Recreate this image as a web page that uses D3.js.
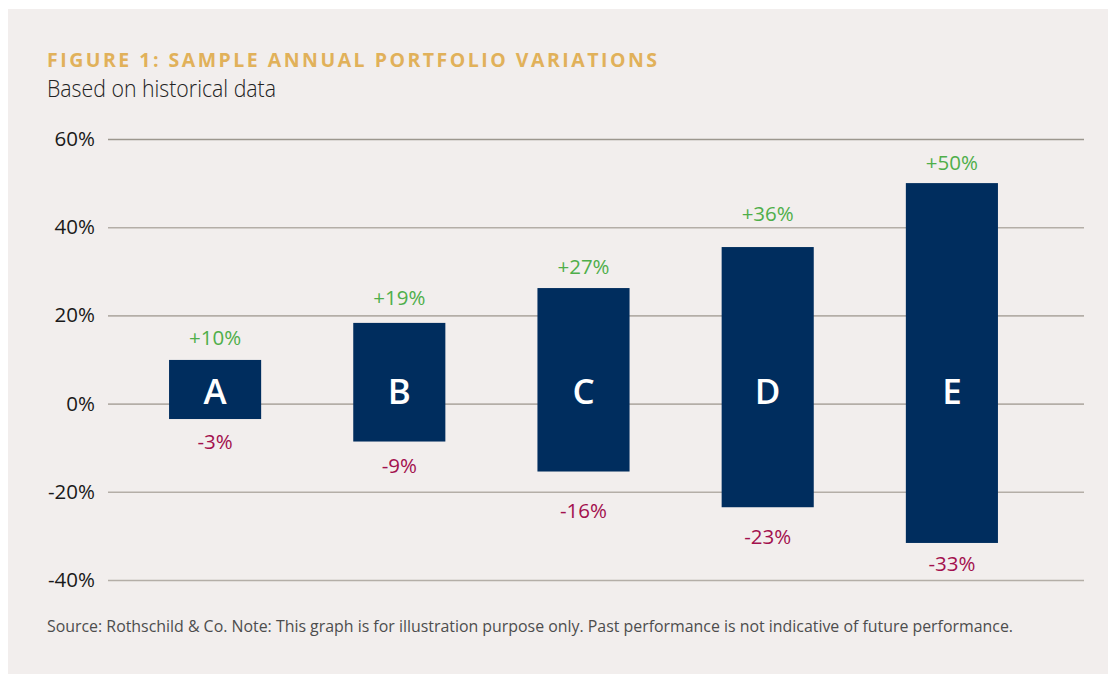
<!DOCTYPE html>
<html>
<head>
<meta charset="utf-8">
<script src="https://cdn.jsdelivr.net/npm/d3@7"></script>
<style>
  html, body { margin: 0; padding: 0; background: #ffffff; }
  svg { display: block; }
  text { font-family: "Open Sans", "Noto Sans", sans-serif; }
</style>
</head>
<body>
<svg id="chart" width="1108" height="674"></svg>
<script>
// ---- data ----
const categories = ["A", "B", "C", "D", "E"];
const highValues = [9.9, 18.3, 26.2, 35.5, 50.0];
const lowValues = [-3.5, -8.6, -15.4, -23.5, -31.6];
const highLabels = ["+10%", "+19%", "+27%", "+36%", "+50%"];
const lowLabels = ["-3%", "-9%", "-16%", "-23%", "-33%"];
// where each label sits, in value units
const highLabelAt = [15.1, 24.1, 31.3, 43.3, 54.8];
const lowLabelAt = [-8.5, -13.9, -24.1, -30.0, -36.2];
const yTicks = [-40, -20, 0, 20, 40, 60];

const title = "FIGURE 1: SAMPLE ANNUAL PORTFOLIO VARIATIONS";
const subtitle = "Based on historical data";
const footnote = "Source: Rothschild & Co. Note: This graph is for illustration purpose only. Past performance is not indicative of future performance.";

// ---- drawing ----
const svg = d3.select("#chart");

svg.append("rect")
  .attr("x", 8).attr("y", 9)
  .attr("width", 1100).attr("height", 665)
  .attr("fill", "#f2eeed");

const gridLeft = 108, gridRight = 1084;

const y = d3.scaleLinear().domain([-40, 60]).range([580, 139]);
const x = d3.scaleBand().domain(categories)
  .range([123, 1044]).paddingInner(0.5).paddingOuter(0.25);

// Axis + gridlines
const yAxis = d3.axisLeft(y)
  .tickValues(yTicks)
  .tickSize(-(gridRight - gridLeft))
  .tickPadding(13)
  .tickFormat(d => d + "%");

const gAxis = svg.append("g")
  .attr("transform", `translate(${gridLeft},0)`)
  .call(yAxis);
gAxis.select(".domain").remove();
gAxis.selectAll(".tick line")
  .attr("stroke", d => d === 60 ? "#9c978e" : "#b4aea7")
  .attr("stroke-width", 1.6);
gAxis.selectAll(".tick text")
  .attr("fill", "#1a1a1a")
  .style("font-size", "20.5px")
  .style("font-family", "'Open Sans', sans-serif");

const rows = categories.map((c, i) => ({
  cat: c, hi: highValues[i], lo: lowValues[i], hl: highLabels[i], ll: lowLabels[i],
  hAt: highLabelAt[i], lAt: lowLabelAt[i]
}));

// Bars
svg.append("g").selectAll("rect")
  .data(rows).join("rect")
  .attr("x", d => x(d.cat))
  .attr("width", x.bandwidth())
  .attr("y", d => y(d.hi))
  .attr("height", d => y(d.lo) - y(d.hi))
  .attr("fill", "#002d5e");

// Letters inside bars
svg.append("g").selectAll("text")
  .data(rows).join("text")
  .attr("x", d => x(d.cat) + x.bandwidth() / 2)
  .attr("y", y(0) - 13)
  .attr("text-anchor", "middle")
  .attr("dominant-baseline", "central")
  .attr("fill", "#ffffff")
  .style("font-size", "35px")
  .style("font-weight", 600)
  .text(d => d.cat);

// High labels
svg.append("g").selectAll("text")
  .data(rows).join("text")
  .attr("x", d => x(d.cat) + x.bandwidth() / 2)
  .attr("y", d => y(d.hAt))
  .attr("text-anchor", "middle")
  .attr("dominant-baseline", "central")
  .attr("fill", "#4fae4a")
  .style("font-size", "20.5px")
  .text(d => d.hl);

// Low labels
svg.append("g").selectAll("text")
  .data(rows).join("text")
  .attr("x", d => x(d.cat) + x.bandwidth() / 2)
  .attr("y", d => y(d.lAt))
  .attr("text-anchor", "middle")
  .attr("dominant-baseline", "central")
  .attr("fill", "#a3114e")
  .style("font-size", "20.5px")
  .text(d => d.ll);

// Title
svg.append("text")
  .attr("x", 47).attr("y", 67)
  .attr("fill", "#e1b15a")
  .attr("textLength", 610)
  .attr("lengthAdjust", "spacing")
  .style("font-size", "19.5px")
  .style("font-weight", 700)
  .text(title);

// Subtitle
svg.append("text")
  .attr("x", 47).attr("y", 97)
  .attr("fill", "#222222")
  .attr("textLength", 229)
  .attr("lengthAdjust", "spacingAndGlyphs")
  .style("font-size", "23px")
  .style("font-weight", 300)
  .text(subtitle);

// Footnote
svg.append("text")
  .attr("x", 47).attr("y", 632)
  .attr("fill", "#4d4d4d")
  .attr("textLength", 966)
  .attr("lengthAdjust", "spacingAndGlyphs")
  .style("font-size", "16px")
  .style("font-weight", 400)
  .text(footnote);
</script>
</body>
</html>
